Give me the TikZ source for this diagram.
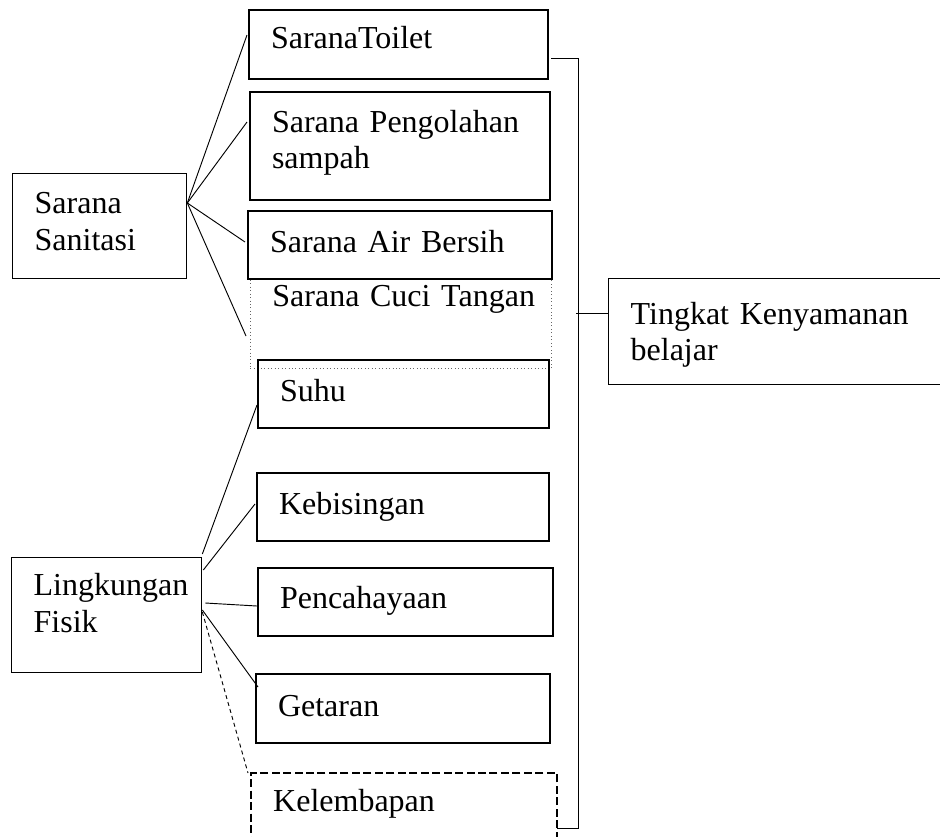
\documentclass[tikz,border=0pt]{standalone}
\usepackage{fontspec}
\setmainfont{Liberation Serif}
\usetikzlibrary{calc}

\begin{document}
\begin{tikzpicture}
   [x=0.375pt,y=-0.375pt,
    box/.style={draw,rectangle,anchor=north west,align=left,
      inner xsep=8.25pt,inner ysep=0pt,
      font=\fontsize{12}{13.8}\selectfont,text height=15pt},
    item/.style={box,line width=0.75pt},
    group/.style={box,line width=0.5pt},
    link/.style={line width=0.35pt}]
\useasboundingbox (0,0) rectangle (940,836);
\node [group,text width=48.75pt,text depth=24.375pt] (sanitasi) at (12,173) {Sarana\\Sanitasi};
\node [item,text width=95.625pt,text height=14.5pt,text depth=11.375pt] (toilet) at (248,9) {SaranaToilet};
\node [item,text width=96pt,text depth=25.5pt] (olah) at (249,91) {Sarana Pengolahan\\sampah};
\node [box,densely dotted,draw=black!60,line width=0.3pt,text width=96.375pt,
       text height=10.5pt,text depth=23.25pt] (cuci) at (250,278) {\mbox{Sarana Cuci Tangan}};
\node [item,text width=97.5pt,text height=15.4pt,text depth=10.1pt] (air) at (247,210) {Sarana Air Bersih};
\node [item,text width=92.625pt,text height=15.4pt,text depth=10.1pt] (suhu) at (257,359) {Suhu};
\node [item,text width=93pt,text height=15.4pt,text depth=10.1pt] (bising) at (256,472) {Kebisingan};
\node [item,text width=94.125pt,text depth=10.5pt] (cahaya) at (257,567) {Pencahayaan};
\node [item,text width=93.75pt,text height=15.75pt,text depth=10.125pt] (getar) at (255,673) {Getaran};
\node [box,line width=0.9pt,dash pattern=on 3pt off 1.3pt,text width=98.25pt,
       text height=14.25pt,text depth=12pt] (lembap) at (250,772) {Kelembapan};
\node [group,text width=54.75pt,text height=14.25pt,text depth=28.875pt] (fisik) at (11,557) {Lingkungan\\Fisik};
\node [group,text width=112.9pt,text height=17pt,text depth=22.75pt] (tingkat) at (608,278) {Tingkat Kenyamanan\\belajar};

\coordinate (hubS) at ($(sanitasi.north east)+(0,30)$);
\draw [link] (hubS) -- ($(toilet.north west)+(-1,26)$);
\draw [link] (hubS) -- ($(olah.north west)+(-2,31)$);
\draw [link] (hubS) -- ($(air.north west)+(-2,32)$);
\draw [link] (hubS) -- ($(cuci.north west)+(-4,58)$);

\draw [link] ($(fisik.north east)+(0,-3)$) -- ($(suhu.north west)+(0,46)$);
\draw [link] ($(fisik.north east)+(1,13)$) -- ($(bising.north west)+(-1,32)$);
\draw [link] ($(fisik.north east)+(3,46)$) -- ($(cahaya.north west)+(0,39)$);
\draw [link] ($(fisik.north east)+(0,53)$) -- ($(getar.north west)+(3,14)$);
\draw [link,dash pattern=on 1.5pt off 1.2pt] ($(fisik.north east)+(0,55)$) -- ($(lembap.north west)+(-2,1)$);

\coordinate (brtop) at ($(toilet.north east)+(2,49)$);
\coordinate (brbot) at ($(lembap.north east)+(-1,56)$);
\draw [link] (brtop) -- ++(27,0) |- (brbot);
\coordinate (tin) at ($(tingkat.north west)+(0,35)$);
\draw [link] (tin) -- ++(-32,0);
\end{tikzpicture}
\end{document}
